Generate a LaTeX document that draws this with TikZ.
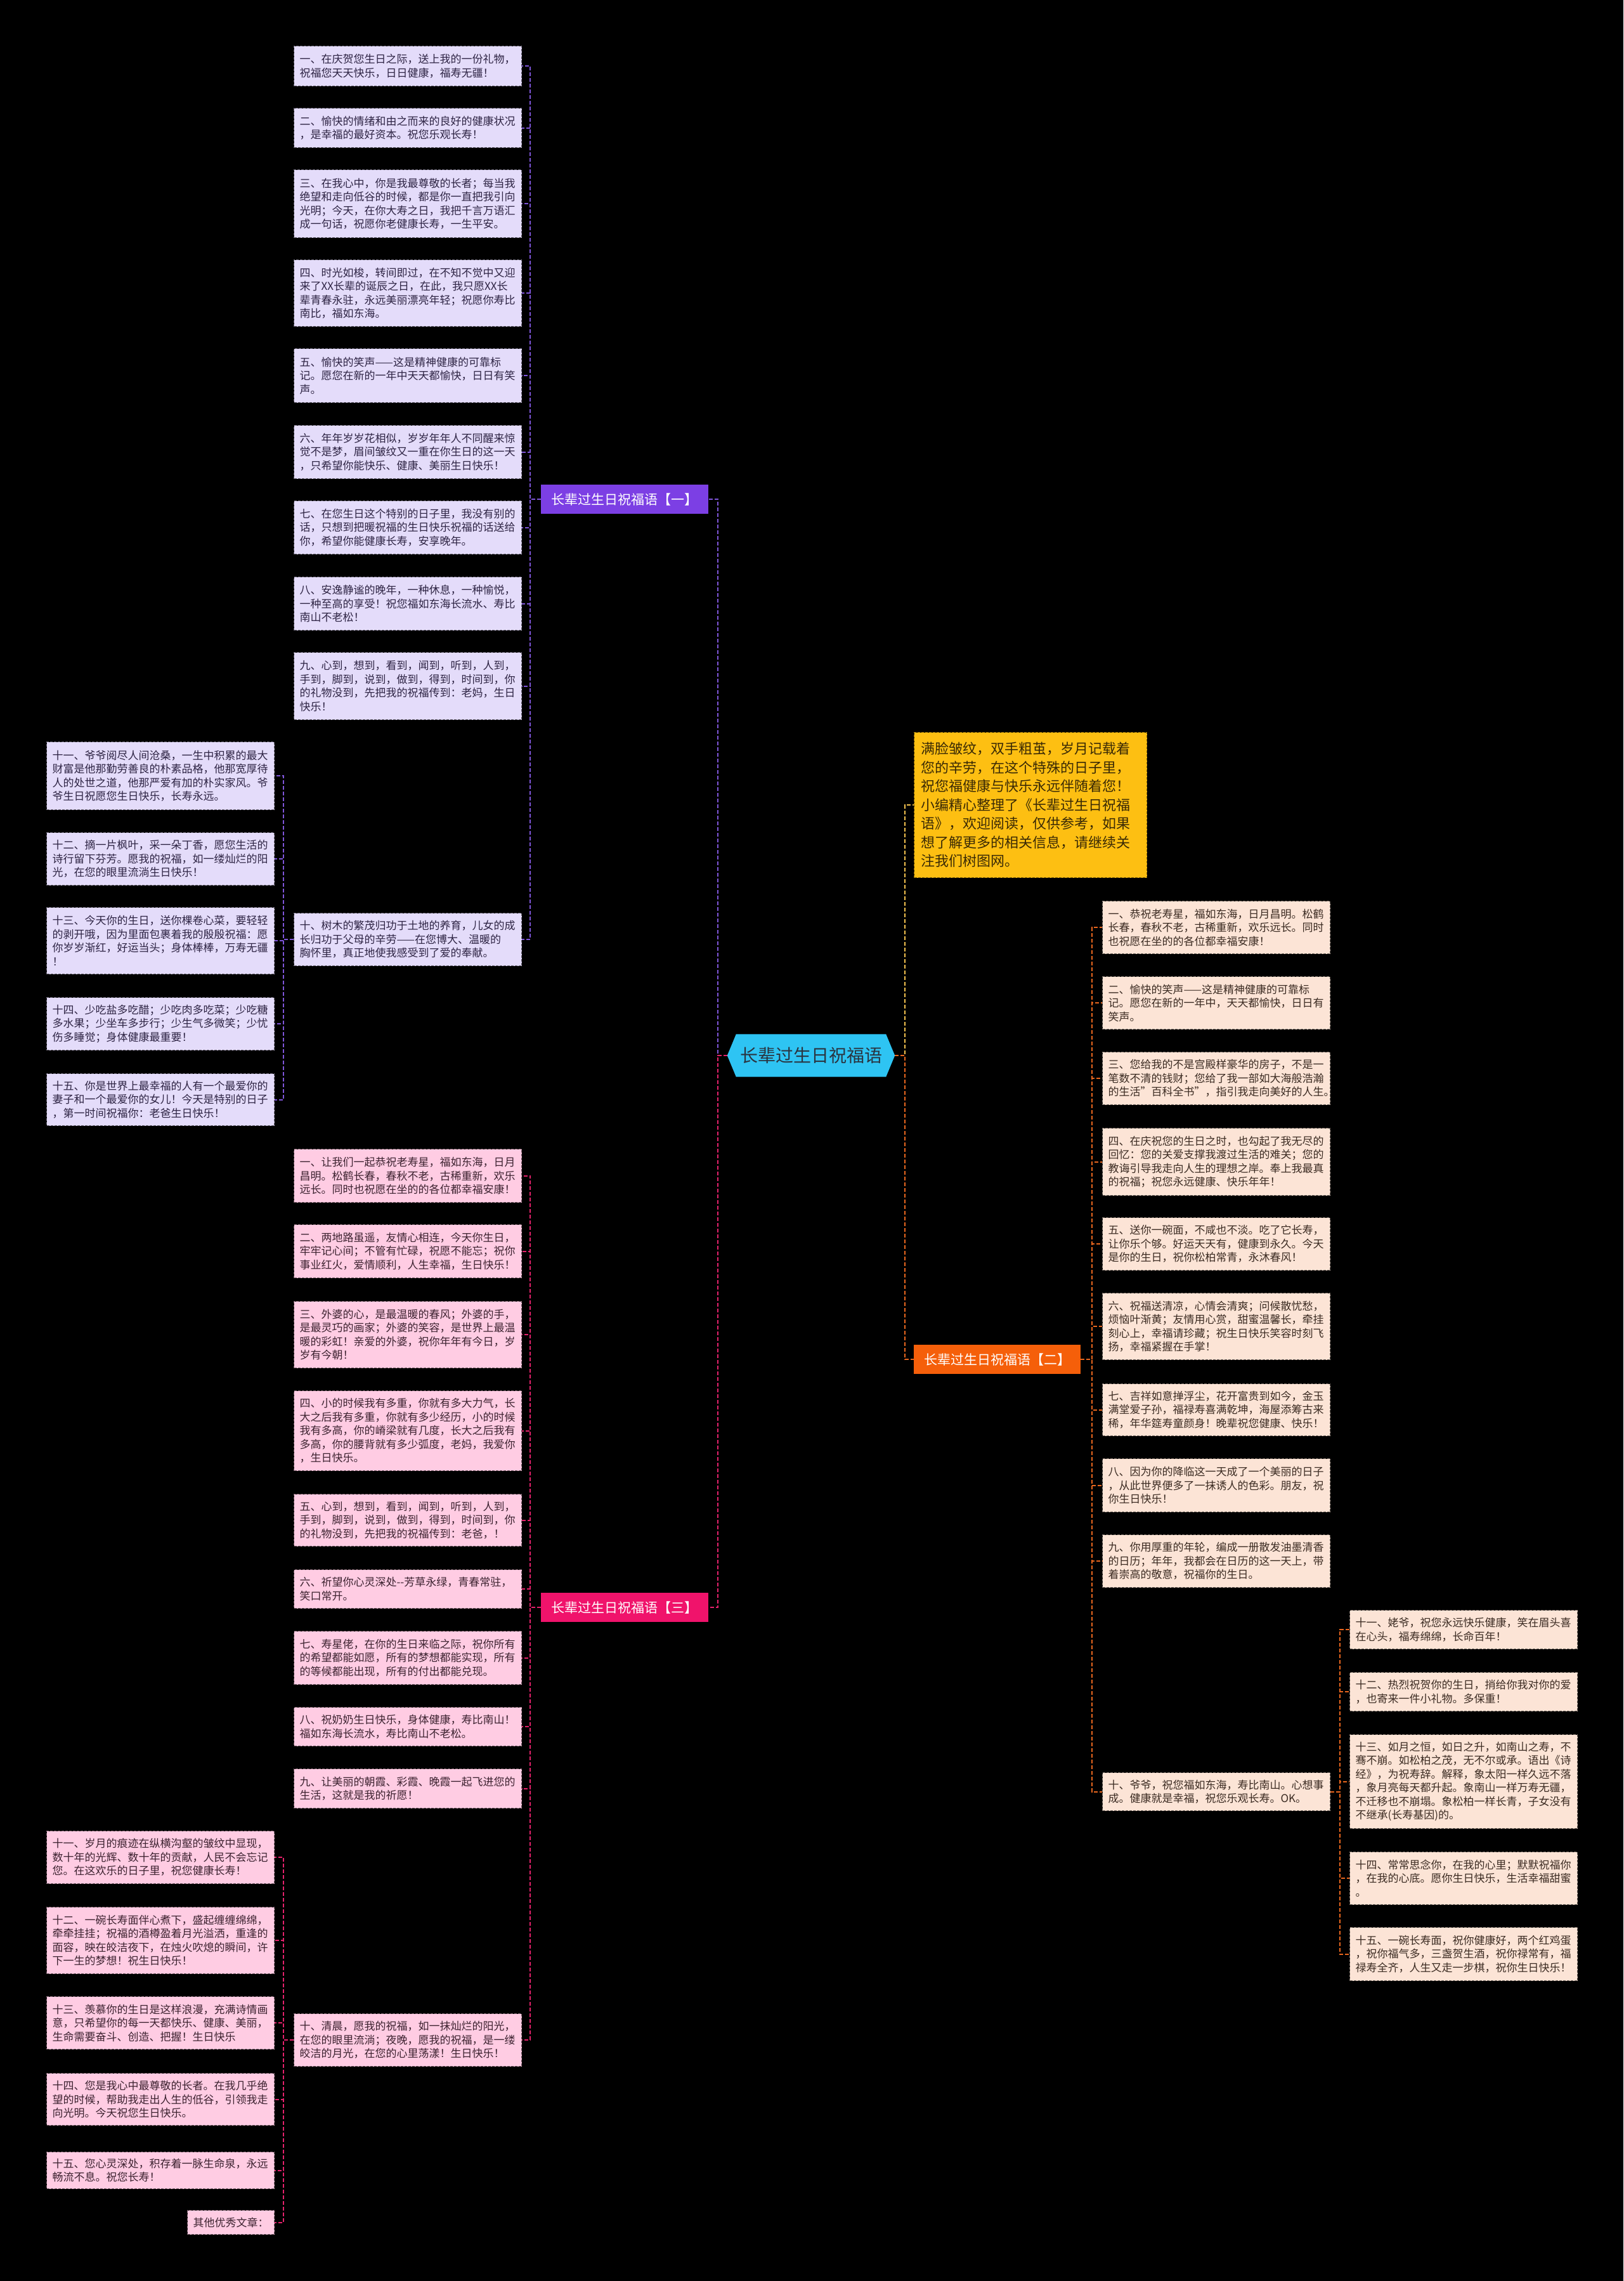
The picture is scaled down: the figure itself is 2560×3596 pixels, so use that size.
\documentclass[tikz,border=0pt]{standalone}
\usepackage{fontspec}
\setmainfont{Noto Sans CJK SC}
\usetikzlibrary{backgrounds}
\definecolor{lavfill}{HTML}{E4DCFA}
\definecolor{lavline}{HTML}{7E55D8}
\definecolor{lavlab}{HTML}{7C3FE4}
\definecolor{lavtxt}{HTML}{2E2444}
\definecolor{pchfill}{HTML}{FCE4D6}
\definecolor{pchline}{HTML}{E8661E}
\definecolor{pchlab}{HTML}{F55F0A}
\definecolor{pchtxt}{HTML}{3B2B22}
\definecolor{pnkfill}{HTML}{FFCCE3}
\definecolor{pnkline}{HTML}{E3216B}
\definecolor{pnklab}{HTML}{F0136B}
\definecolor{pnktxt}{HTML}{3C2230}
\definecolor{yelfill}{HTML}{FDBF12}
\definecolor{yelline}{HTML}{F2C14E}
\definecolor{yeltxt}{HTML}{3A2A05}
\definecolor{rootfill}{HTML}{2EC4F3}
\definecolor{roottxt}{HTML}{2A3440}
\tikzset{
  txtbox/.style={anchor=north west, inner xsep=9pt, inner ysep=0pt, text width=341pt,
    align=left, font=\fontsize{17}{21.5}\selectfont, line width=1.1pt, dash pattern=on 4pt off 2pt},
  bxA/.style={txtbox, fill=lavfill, draw=lavfill!45!black, text=lavtxt},
  bxB/.style={txtbox, fill=pchfill, draw=pchfill!45!black, text=pchtxt},
  bxC/.style={txtbox, fill=pnkfill, draw=pnkfill!45!black, text=pnktxt},
  labbox/.style={anchor=north west, minimum width=264pt, minimum height=46pt, inner sep=0pt,
    font=\fontsize{21}{21}\selectfont, text=white},
  conn/.style={line width=2pt, dash pattern=on 6pt off 3pt},
  lnA/.style={conn, draw=lavline},
  lnB/.style={conn, draw=pchline},
  lnC/.style={conn, draw=pnkline},
  lnY/.style={conn, draw=yelline},
}
\begin{document}
\begin{tikzpicture}[x=1pt,y=-1pt]
\useasboundingbox (0,0) rectangle (2560,3596);

% root
\node[minimum width=264pt, minimum height=67pt, inner sep=0pt, font=\fontsize{28}{28}\selectfont, text=roottxt] (root) at (1279,1664) {长辈过生日祝福语};

% intro
\node[anchor=north west, inner xsep=11pt, inner ysep=0pt, text width=345pt, minimum height=229pt, align=left,
  font=\fontsize{22}{29.5}\selectfont, fill=yelfill, draw=yelfill!55!black, line width=1.1pt, dash pattern=on 4pt off 2pt, text=yeltxt]
  (intro) at (1441,1154) {满脸皱纹，双手粗茧，岁月记载着\\您的辛劳，在这个特殊的日子里，\\祝您福健康与快乐永远伴随着您！\\小编精心整理了《长辈过生日祝福\\语》，欢迎阅读，仅供参考，如果\\想了解更多的相关信息，请继续关\\注我们树图网。};

% branch labels
\node[labbox, fill=lavlab] (g1) at (853,764) {长辈过生日祝福语【一】};
\node[labbox, fill=pchlab, minimum width=263pt] (g2) at (1441,2120) {长辈过生日祝福语【二】};
\node[labbox, fill=pnklab] (g3) at (853,2511) {长辈过生日祝福语【三】};

% trunk coordinates
\coordinate (tl) at (1132,0);
\coordinate (tr) at (1427,0);
\coordinate (t1) at (836,0);
\coordinate (s1) at (447,0);
\coordinate (t2) at (1722,0);
\coordinate (s2) at (2113,0);
\coordinate (t3) at (836,0);
\coordinate (s3) at (447,0);

% group 1
\node[bxA, minimum height=63pt] (a1) at (463,72) {一、在庆贺您生日之际，送上我的一份礼物，\\祝福您天天快乐，日日健康，福寿无疆！};
\node[bxA, minimum height=62pt] (a2) at (463,170) {二、愉快的情绪和由之而来的良好的健康状况\\，是幸福的最好资本。祝您乐观长寿！};
\node[bxA, minimum height=107pt] (a3) at (463,267) {三、在我心中，你是我最尊敬的长者；每当我\\绝望和走向低谷的时候，都是你一直把我引向\\光明；今天，在你大寿之日，我把千言万语汇\\成一句话，祝愿你老健康长寿，一生平安。};
\node[bxA, minimum height=105pt] (a4) at (463,409) {四、时光如梭，转间即过，在不知不觉中又迎\\来了XX长辈的诞辰之日，在此，我只愿XX长\\辈青春永驻，永远美丽漂亮年轻；祝愿你寿比\\南比，福如东海。};
\node[bxA, minimum height=85pt] (a5) at (463,549) {五、愉快的笑声——这是精神健康的可靠标\\记。愿您在新的一年中天天都愉快，日日有笑\\声。};
\node[bxA, minimum height=84pt] (a6) at (463,670) {六、年年岁岁花相似，岁岁年年人不同醒来惊\\觉不是梦，眉间皱纹又一重在你生日的这一天\\，只希望你能快乐、健康、美丽生日快乐！};
\node[bxA, minimum height=84pt] (a7) at (463,789) {七、在您生日这个特别的日子里，我没有别的\\话，只想到把暖祝福的生日快乐祝福的话送给\\你，希望你能健康长寿，安享晚年。};
\node[bxA, minimum height=84pt] (a8) at (463,909) {八、安逸静谧的晚年，一种休息，一种愉悦，\\一种至高的享受！祝您福如东海长流水、寿比\\南山不老松！};
\node[bxA, minimum height=106pt] (a9) at (463,1028) {九、心到，想到，看到，闻到，听到，人到，\\手到，脚到，说到，做到，得到，时间到，你\\的礼物没到，先把我的祝福传到：老妈，生日\\快乐！};
\node[bxA, minimum height=83pt] (a10) at (463,1439) {十、树木的繁茂归功于土地的养育，儿女的成\\长归功于父母的辛劳——在您博大、温暖的\\胸怀里，真正地使我感受到了爱的奉献。};
\node[bxA, minimum height=107pt] (a11) at (73,1169) {十一、爷爷阅尽人间沧桑，一生中积累的最大\\财富是他那勤劳善良的朴素品格，他那宽厚待\\人的处世之道，他那严爱有加的朴实家风。爷\\爷生日祝愿您生日快乐，长寿永远。};
\node[bxA, minimum height=83pt] (a12) at (73,1312) {十二、摘一片枫叶，采一朵丁香，愿您生活的\\诗行留下芬芳。愿我的祝福，如一缕灿烂的阳\\光，在您的眼里流淌生日快乐！};
\node[bxA, minimum height=105pt] (a13) at (73,1430) {十三、今天你的生日，送你棵卷心菜，要轻轻\\的剥开哦，因为里面包裹着我的殷殷祝福：愿\\你岁岁渐红，好运当头；身体棒棒，万寿无疆\\！};
\node[bxA, minimum height=83pt] (a14) at (73,1572) {十四、少吃盐多吃醋；少吃肉多吃菜；少吃糖\\多水果；少坐车多步行；少生气多微笑；少忧\\伤多睡觉；身体健康最重要！};
\node[bxA, minimum height=82pt] (a15) at (73,1692) {十五、你是世界上最幸福的人有一个最爱你的\\妻子和一个最爱你的女儿！今天是特别的日子\\，第一时间祝福你：老爸生日快乐！};

% group 2
\node[bxB, minimum height=83pt] (b1) at (1738,1420) {一、恭祝老寿星，福如东海，日月昌明。松鹤\\长春，春秋不老，古稀重新，欢乐远长。同时\\也祝愿在坐的的各位都幸福安康！};
\node[bxB, minimum height=83pt] (b2) at (1738,1539) {二、愉快的笑声——这是精神健康的可靠标\\记。愿您在新的一年中，天天都愉快，日日有\\笑声。};
\node[bxB, minimum height=83pt] (b3) at (1738,1658) {三、您给我的不是宫殿样豪华的房子，不是一\\笔数不清的钱财；您给了我一部如大海般浩瀚\\的生活"百科全书"，指引我走向美好的人生。};
\node[bxB, minimum height=106pt] (b4) at (1738,1778) {四、在庆祝您的生日之时，也勾起了我无尽的\\回忆：您的关爱支撑我渡过生活的难关；您的\\教诲引导我走向人生的理想之岸。奉上我最真\\的祝福；祝您永远健康、快乐年年！};
\node[bxB, minimum height=83pt] (b5) at (1738,1919) {五、送你一碗面，不咸也不淡。吃了它长寿，\\让你乐个够。好运天天有，健康到永久。今天\\是你的生日，祝你松柏常青，永沐春风！};
\node[bxB, minimum height=105pt] (b6) at (1738,2038) {六、祝福送清凉，心情会清爽；问候散忧愁，\\烦恼叶渐黄；友情用心赏，甜蜜温馨长，牵挂\\刻心上，幸福请珍藏；祝生日快乐笑容时刻飞\\扬，幸福紧握在手掌！};
\node[bxB, minimum height=82pt] (b7) at (1738,2181) {七、吉祥如意掸浮尘，花开富贵到如今，金玉\\满堂爱子孙，福禄寿喜满乾坤，海屋添筹古来\\稀，年华筵寿童颜身！晚辈祝您健康、快乐！};
\node[bxB, minimum height=84pt] (b8) at (1738,2299) {八、因为你的降临这一天成了一个美丽的日子\\，从此世界便多了一抹诱人的色彩。朋友，祝\\你生日快乐！};
\node[bxB, minimum height=83pt] (b9) at (1738,2419) {九、你用厚重的年轮，编成一册散发油墨清香\\的日历；年年，我都会在日历的这一天上，带\\着崇高的敬意，祝福你的生日。};
\node[bxB, minimum height=60pt] (b10) at (1738,2794) {十、爷爷，祝您福如东海，寿比南山。心想事\\成。健康就是幸福，祝您乐观长寿。OK。};
\node[bxB, minimum height=61pt] (b11) at (2128,2538) {十一、姥爷，祝您永远快乐健康，笑在眉头喜\\在心头，福寿绵绵，长命百年！};
\node[bxB, minimum height=61pt] (b12) at (2128,2636) {十二、热烈祝贺你的生日，捎给你我对你的爱\\，也寄来一件小礼物。多保重！};
\node[bxB, minimum height=148pt] (b13) at (2128,2734) {十三、如月之恒，如日之升，如南山之寿，不\\骞不崩。如松柏之茂，无不尔或承。语出《诗\\经》，为祝寿辞。解释，象太阳一样久远不落\\，象月亮每天都升起。象南山一样万寿无疆，\\不迁移也不崩塌。象松柏一样长青，子女没有\\不继承(长寿基因)的。};
\node[bxB, minimum height=83pt] (b14) at (2128,2919) {十四、常常思念你，在我的心里；默默祝福你\\，在我的心底。愿你生日快乐，生活幸福甜蜜\\。};
\node[bxB, minimum height=84pt] (b15) at (2128,3038) {十五、一碗长寿面，祝你健康好，两个红鸡蛋\\，祝你福气多，三盏贺生酒，祝你禄常有，福\\禄寿全齐，人生又走一步棋，祝你生日快乐！};

% group 3
\node[bxC, minimum height=84pt] (c1) at (463,1811) {一、让我们一起恭祝老寿星，福如东海，日月\\昌明。松鹤长春，春秋不老，古稀重新，欢乐\\远长。同时也祝愿在坐的的各位都幸福安康！};
\node[bxC, minimum height=84pt] (c2) at (463,1930) {二、两地路虽遥，友情心相连，今天你生日，\\牢牢记心间；不管有忙碌，祝愿不能忘；祝你\\事业红火，爱情顺利，人生幸福，生日快乐！};
\node[bxC, minimum height=105pt] (c3) at (463,2051) {三、外婆的心，是最温暖的春风；外婆的手，\\是最灵巧的画家；外婆的笑容，是世界上最温\\暖的彩虹！亲爱的外婆，祝你年年有今日，岁\\岁有今朝！};
\node[bxC, minimum height=126pt] (c4) at (463,2192) {四、小的时候我有多重，你就有多大力气，长\\大之后我有多重，你就有多少经历，小的时候\\我有多高，你的嵴梁就有几度，长大之后我有\\多高，你的腰背就有多少弧度，老妈，我爱你\\，生日快乐。};
\node[bxC, minimum height=82pt] (c5) at (463,2355) {五、心到，想到，看到，闻到，听到，人到，\\手到，脚到，说到，做到，得到，时间到，你\\的礼物没到，先把我的祝福传到：老爸，！};
\node[bxC, minimum height=61pt] (c6) at (463,2474) {六、祈望你心灵深处-{}-芳草永绿，青春常驻，\\笑口常开。};
\node[bxC, minimum height=84pt] (c7) at (463,2571) {七、寿星佬，在你的生日来临之际，祝你所有\\的希望都能如愿，所有的梦想都能实现，所有\\的等候都能出现，所有的付出都能兑现。};
\node[bxC, minimum height=61pt] (c8) at (463,2691) {八、祝奶奶生日快乐，身体健康，寿比南山！\\福如东海长流水，寿比南山不老松。};
\node[bxC, minimum height=62pt] (c9) at (463,2788) {九、让美丽的朝霞、彩霞、晚霞一起飞进您的\\生活，这就是我的祈愿！};
\node[bxC, minimum height=83pt] (c10) at (463,3174) {十、清晨，愿我的祝福，如一抹灿烂的阳光，\\在您的眼里流淌；夜晚，愿我的祝福，是一缕\\皎洁的月光，在您的心里荡漾！生日快乐！};
\node[bxC, minimum height=83pt] (c11) at (73,2886) {十一、岁月的痕迹在纵横沟壑的皱纹中显现，\\数十年的光辉、数十年的贡献，人民不会忘记\\您。在这欢乐的日子里，祝您健康长寿！};
\node[bxC, minimum height=105pt] (c12) at (73,3006) {十二、一碗长寿面伴心煮下，盛起缠缠绵绵，\\牵牵挂挂；祝福的酒樽盈着月光溢洒，重逢的\\面容，映在皎洁夜下，在烛火吹熄的瞬间，许\\下一生的梦想！祝生日快乐！};
\node[bxC, minimum height=83pt] (c13) at (73,3147) {十三、羡慕你的生日是这样浪漫，充满诗情画\\意，只希望你的每一天都快乐、健康、美丽，\\生命需要奋斗、创造、把握！生日快乐};
\node[bxC, minimum height=82pt] (c14) at (73,3268) {十四、您是我心中最尊敬的长者。在我几乎绝\\望的时候，帮助我走出人生的低谷，引领我走\\向光明。今天祝您生日快乐。};
\node[bxC, minimum height=58pt] (c15) at (73,3392) {十五、您心灵深处，积存着一脉生命泉，永远\\畅流不息。祝您长寿！};
\node[bxC, text width=119pt, minimum height=38pt, align=center] (c16) at (295,3484) {其他优秀文章：};

% background, root hexagon
\begin{pgfonlayer}{background}
\fill[black] (0,0) rectangle (2560,3596);
\fill[rootfill] (root.west) -- ([xshift=14pt]root.north west) -- ([xshift=-14pt]root.north east)
  -- (root.east) -- ([xshift=-14pt]root.south east) -- ([xshift=14pt]root.south west) -- cycle;
\end{pgfonlayer}

% connectors from root
\draw[lnA] (root.west) -- (root.west -| tl) |- (g1.east);
\draw[lnC] (root.west) -- (root.west -| tl) |- (g3.east);
\draw[lnY] (root.east) -- (root.east -| tr) |- (intro.west);
\draw[lnB] (root.east) -- (root.east -| tr) |- (g2.west);

% group connectors
\foreach \i in {1,...,10} \draw[lnA] (g1.west) -- (g1.west -| t1) |- (a\i.east);
\foreach \i in {11,...,15} \draw[lnA] (a10.west) -- (a10.west -| s1) |- (a\i.east);
\foreach \i in {1,...,10} \draw[lnB] (g2.east) -- (g2.east -| t2) |- (b\i.west);
\foreach \i in {11,...,15} \draw[lnB] (b10.east) -- (b10.east -| s2) |- (b\i.west);
\foreach \i in {1,...,10} \draw[lnC] (g3.west) -- (g3.west -| t3) |- (c\i.east);
\foreach \i in {11,...,16} \draw[lnC] (c10.west) -- (c10.west -| s3) |- (c\i.east);
\end{tikzpicture}
\end{document}
